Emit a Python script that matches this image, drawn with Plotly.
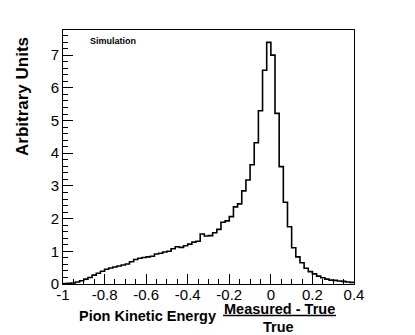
import numpy as np
import plotly.graph_objects as go

# histogram: 70 bins of width 0.02 from -1 to 0.4
bin_lo = -1.0
bin_width = 0.02
counts = [
    0.01, 0.02, 0.03, 0.06, 0.10, 0.15, 0.20, 0.27, 0.33, 0.39,
    0.45, 0.49, 0.52, 0.55, 0.58, 0.61, 0.68, 0.75, 0.79, 0.81,
    0.83, 0.85, 0.92, 0.94, 0.98, 1.00, 1.08, 1.14, 1.12, 1.17,
    1.22, 1.28, 1.31, 1.53, 1.47, 1.48, 1.57, 1.67, 1.89, 1.93,
    2.06, 2.36, 2.45, 2.85, 3.18, 3.65, 4.32, 5.30, 6.54, 7.39,
    7.00, 5.22, 3.59, 2.50, 1.75, 1.11, 0.83, 0.65, 0.48, 0.38,
    0.31, 0.24, 0.19, 0.15, 0.12, 0.11, 0.09, 0.08, 0.06, 0.05,
]
x_ticks = [-1, -0.8, -0.6, -0.4, -0.2, 0, 0.2, 0.4]
x_ticklabels = ["-1", "-0.8", "-0.6", "-0.4", "-0.2", "0", "0.2", "0.4"]

FONT = "Liberation Sans, Arial, Helvetica, sans-serif"

edges = bin_lo + bin_width * np.arange(len(counts) + 1)
ys = list(counts) + [counts[-1]]

fig = go.Figure()
fig.add_trace(go.Scatter(
    x=edges, y=ys, mode="lines", line_shape="hv",
    line=dict(color="black", width=1.6), showlegend=False,
))

fig.update_xaxes(
    range=[-1, 0.4], tickvals=x_ticks, ticktext=x_ticklabels,
    ticks="inside", ticklen=10, tickcolor="black", tickwidth=1,
    ticklabelstandoff=-3,
    minor=dict(dtick=0.05, tick0=0, ticks="inside", ticklen=5, tickcolor="black"),
    showline=True, linecolor="black", linewidth=1, mirror=True,
    showgrid=False, zeroline=False,
    tickfont=dict(family=FONT, size=15, color="black"),
)
fig.update_yaxes(
    range=[0, 7.77], dtick=1, tick0=0,
    ticks="inside", ticklen=10, tickcolor="black", tickwidth=1,
    minor=dict(dtick=0.2, tick0=0, ticks="inside", ticklen=5, tickcolor="black"),
    showline=True, linecolor="black", linewidth=1, mirror=True,
    showgrid=False, zeroline=False,
    tickfont=dict(family=FONT, size=15, color="black"),
)

bold = dict(family=FONT, color="black")
fig.add_annotation(text="<b>Arbitrary Units</b>", xref="paper", yref="paper",
                   x=-0.141, y=0.74, textangle=-90, showarrow=False,
                   xanchor="center", yanchor="middle", font=dict(size=17, **bold))
fig.add_annotation(text="<b>Simulation</b>", xref="paper", yref="paper",
                   x=0.086, y=0.957, showarrow=False,
                   xanchor="left", yanchor="middle", font=dict(size=9, **bold))
fig.add_annotation(text="<b>Pion Kinetic Energy</b>", xref="paper", yref="paper",
                   x=0.292, y=-0.126, showarrow=False,
                   xanchor="center", yanchor="middle", font=dict(size=14.5, **bold))
fig.add_annotation(text="<b>Measured - True</b>", xref="paper", yref="paper",
                   x=0.744, y=-0.100, showarrow=False, borderpad=0,
                   xanchor="center", yanchor="middle", font=dict(size=14.5, **bold))
fig.add_annotation(text="<b>True</b>", xref="paper", yref="paper",
                   x=0.742, y=-0.170, showarrow=False, borderpad=0,
                   xanchor="center", yanchor="middle", font=dict(size=14.5, **bold))
# fraction bar
fig.add_shape(type="line", xref="paper", yref="paper",
              x0=0.55, x1=0.938, y0=-0.124, y1=-0.124,
              line=dict(color="black", width=1.5))

fig.update_layout(
    width=415, height=335,
    margin=dict(l=63, r=61, t=30, b=51),
    plot_bgcolor="white", paper_bgcolor="white",
    font=dict(family=FONT),
)

# drop the default page margin so the figure sits at the window's corner
fig.write_html("out.html", config={"displayModeBar": False},
               post_script="document.body.style.margin='0';")
